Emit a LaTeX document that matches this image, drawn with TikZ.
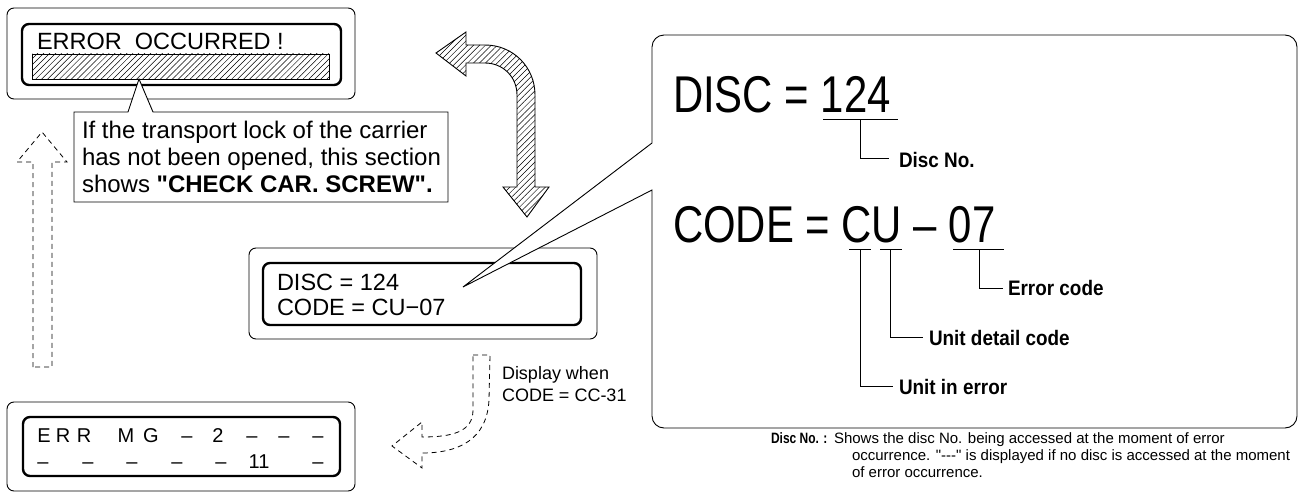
\documentclass[tikz,border=0pt]{standalone}
\usepackage{fontspec}
\setmainfont{Liberation Sans}[Ligatures=TeXOff]
\newfontfamily\narrowfont[FakeStretch=0.81,Ligatures=TeXOff]{Liberation Sans}
\newfontfamily\condfont[FakeStretch=0.9,Ligatures=TeXOff]{Liberation Sans}
\newfontfamily\tightfont[FakeStretch=0.8,Ligatures=TeXOff]{Liberation Sans}
\usetikzlibrary{patterns.meta}
\begin{document}
\begin{tikzpicture}[x=1pt,y=-1pt,
  outerbox/.style={draw,line width=0.9pt,rounded corners=7pt},
  innerbox/.style={draw,line width=2.4pt,rounded corners=7pt},
  thinline/.style={draw,line width=0.9pt},
  hatch/.style={pattern={Lines[angle=45,distance=4.2pt,line width=0.5pt]}},
  dashedarrow/.style={draw,line width=0.8pt,dash pattern=on 5pt off 4pt},
  txt/.style={anchor=base west,inner sep=0pt,outer sep=0pt},
  ctxt/.style={anchor=base,inner sep=0pt,outer sep=0pt,font=\fontsize{20}{24}\selectfont},
  lcd/.style={font=\fontsize{23.5}{28}\selectfont},
  note/.style={font=\fontsize{24}{27}\selectfont},
  big/.style={font=\narrowfont\fontsize{51.7}{60}\selectfont},
  lab/.style={font=\condfont\bfseries\fontsize{21}{25}\selectfont},
  small/.style={font=\fontsize{18}{21}\selectfont},
  foot/.style={font=\fontsize{15}{17}\selectfont}]
\useasboundingbox (0,0) rectangle (1299,495);

% ---------- top display ----------
\draw[outerbox] (7,8) rectangle (355,99);
\draw[innerbox] (22,24) rectangle (341,85);
\node[txt,lcd] (err) at (37,50) {ERROR\ \ OCCURRED !};
\draw[thinline,hatch] (32,54) rectangle (329,79);
\coordinate (tipA) at (139,79);

% callout under top display
\draw[thinline,fill=white] (74,112) -- (128,112) -- (tipA) -- (153,112) -- (448,112)
   -- (448,202) -- (74,202) -- cycle;
\node[txt,note] (c1) at (82,138) {If the transport lock of the carrier};
\node[txt,note] (c2) at (82,165) {has not been opened, this section};
\node[txt,note] (c3) at (82,192) {shows \textbf{"CHECK CAR. SCREW".}};

% ---------- dashed up arrow (left) ----------
\draw[dashedarrow] (33,367) -- (33,162) -- (17,162) -- (42,132) -- (67,162)
   -- (52,162) -- (52,367) -- cycle;

% ---------- hatched double arrow ----------
\draw[thinline,hatch] (436,53) -- (466,32) -- (466,45) -- (485,45)
   .. controls (513,45) and (535,67) .. (535,95) -- (535,187) -- (549,187)
   -- (527,217) -- (503,187) -- (517,187) -- (517,95)
   .. controls (517,77) and (503,63) .. (485,63) -- (466,63) -- (466,76) -- cycle;

% ---------- middle display ----------
\draw[outerbox] (249,248) rectangle (597,339);
\draw[innerbox] (263,263) rectangle (581,325);
\node[txt,lcd] (d1) at (277,290) {DISC = 124};
\node[txt,lcd] (d2) at (277,315) {CODE = CU−07};
\coordinate (tipB) at (463,287);

% ---------- big callout ----------
\draw[thinline,fill=white] (tipB) -- (652,143) -- (652,47)
   .. controls (652,40.4) and (657.4,35) .. (664,35) -- (1285,35)
   .. controls (1291.6,35) and (1297,40.4) .. (1297,47) -- (1297,416)
   .. controls (1297,422.6) and (1291.6,428) .. (1285,428) -- (664,428)
   .. controls (657.4,428) and (652,422.6) .. (652,416) -- (652,190) -- cycle;
\node[txt,big] (bdisc) at (673,113) {DISC = 124};
\node[txt,big] (bcode) at (673,242) {CODE = CU – 07};

\draw[thinline] (823,119) -- (898,119);
\draw[thinline] (849,249) -- (871,249);
\draw[thinline] (880,249) -- (902,249);
\draw[thinline] (953,249) -- (1004,249);

\node[txt,lab] (ldisc) at (899,167) {Disc No.};
\node[txt,lab] (lerr) at (1008,295) {Error code};
\node[txt,lab] (ldet) at (929,345) {Unit detail code};
\node[txt,lab] (lunit) at (899,394) {Unit in error};

\draw[thinline] (860,119) -- (860,158) -- (889,158);
\draw[thinline] (979,249) -- (979,288) -- (1003,288);
\draw[thinline] (890,249) -- (890,337) -- (923,337);
\draw[thinline] (860,249) -- (860,386) -- (893,386);

% ---------- dashed curved arrow ----------
\draw[dashedarrow] (473,355) -- (490,355) -- (489,400)
   .. controls (487,440) and (458,453) .. (422,453) -- (422,468) -- (392,446)
   -- (422,422) -- (422,437) .. controls (452,437) and (473,432) .. (473,410) -- cycle;
\node[txt,small] (dw1) at (502,379) {Display when};
\node[txt,small] (dw2) at (502,401) {CODE = CC-31};

% ---------- bottom-left display ----------
\draw[outerbox] (7,402) rectangle (355,491);
\draw[innerbox] (23,417) rectangle (340,476);
\node[ctxt] (r1a) at (44,442) {E};
\node[ctxt] (r1b) at (63,442) {R};
\node[ctxt] (r1c) at (84,442) {R};
\node[ctxt] (r1d) at (126,442) {M};
\node[ctxt] (r1e) at (151,442) {G};
\node[ctxt] (r1f) at (187,442) {–};
\node[ctxt] (r1g) at (218,442) {2};
\node[ctxt] (r1h) at (252,442) {–};
\node[ctxt] (r1i) at (284,442) {–};
\node[ctxt] (r1j) at (318,442) {–};
\node[ctxt] (r2a) at (43,468) {–};
\node[ctxt] (r2b) at (88,468) {–};
\node[ctxt] (r2c) at (132,468) {–};
\node[ctxt] (r2d) at (177,468) {–};
\node[ctxt] (r2e) at (221,468) {–};
\node[ctxt] (r2f) at (259,468) {11};
\node[ctxt] (r2g) at (318,468) {–};

% ---------- footnote ----------
\node[txt,font=\tightfont\bfseries\fontsize{15}{17}\selectfont] (fn0) at (771,443) {Disc No. :};
\node[txt,foot] (fn1) at (834,443) {Shows the disc No. being accessed at the moment of error};
\node[txt,foot] (fn2) at (852,460) {occurrence. "---" is displayed if no disc is accessed at the moment};
\node[txt,foot] (fn3) at (852,477) {of error occurrence.};
\end{tikzpicture}
\end{document}
